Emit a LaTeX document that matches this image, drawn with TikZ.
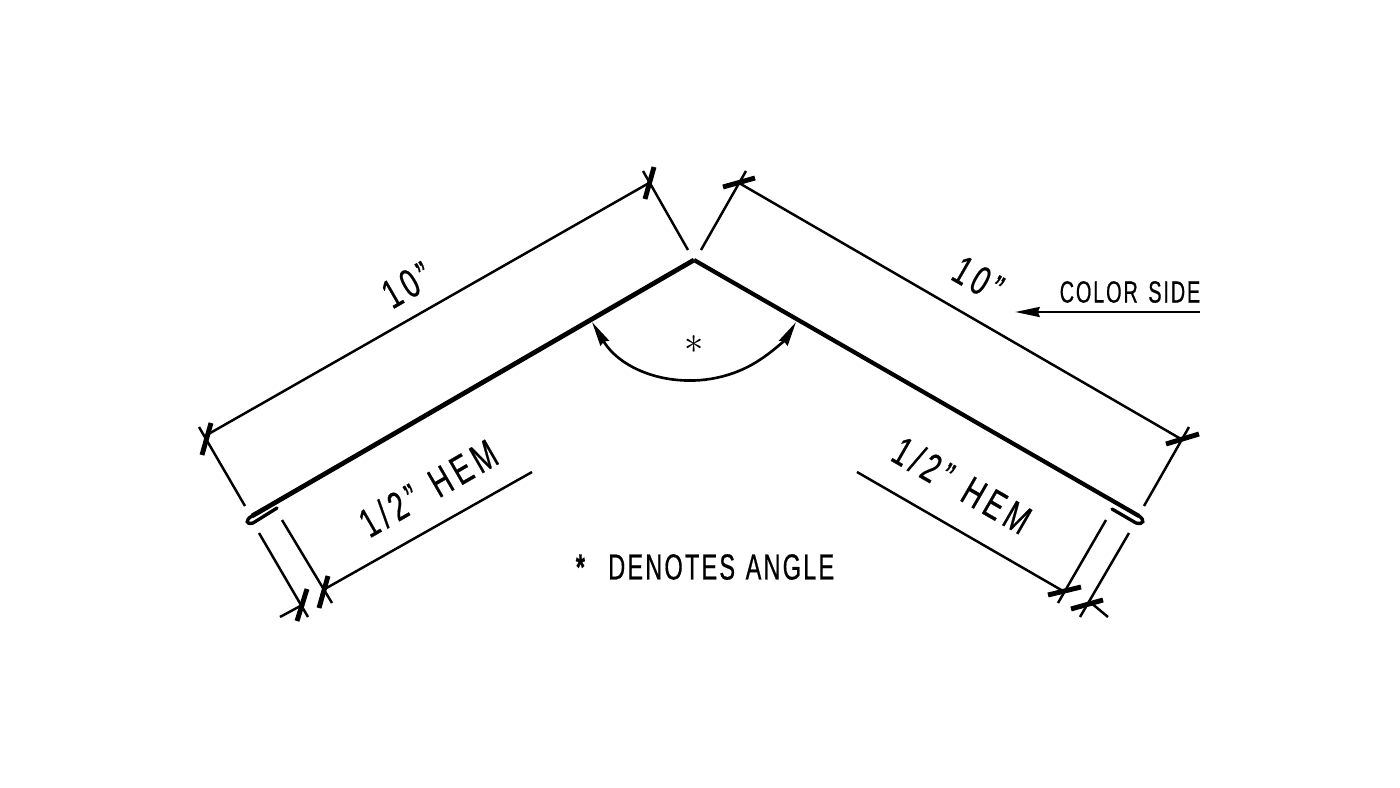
\documentclass[tikz,border=0pt]{standalone}
\usepackage{fontspec}
\setmainfont[FakeStretch=0.65,FakeBold=0.5,LetterSpace=6]{Liberation Sans}
\newfontfamily\widefont[FakeStretch=0.68,FakeBold=0.5,LetterSpace=12]{Liberation Sans}
\usetikzlibrary{arrows.meta}

\tikzset{
    dimline/.style={black, line width=0.7pt},
    ticked/.style={black, line width=1.4pt},
    panel/.style={black, line width=1.2pt},
    hemline/.style={black, line width=0.95pt, line cap=round},
    sloped label/.style={inner sep=0pt, font=\widefont\fontsize{11.6pt}{12pt}\selectfont},
    label/.style={inner sep=0pt, font=\fontsize{10.3pt}{12pt}\selectfont},
    smalllabel/.style={inner sep=0pt, font=\fontsize{8.7pt}{10pt}\selectfont},
    dimtip/.tip={Stealth[length=7pt,width=2.8pt,inset=0.5pt]}
}

\begin{document}
\begin{tikzpicture}[x=0.01cm, y=-0.01cm]
    \useasboundingbox (0,0) rectangle (1400,788);

    % Bent panel
    \draw[panel, line width=1.35pt] (252,516) -- (694,260);
    \draw[panel] (694,260) -- (1139,516);

    % Hems
    \draw[hemline] (252,516)
        .. controls (245,520) and (246,525) .. (253,523) -- (277,508);
    \draw[hemline] (1139,516)
        .. controls (1145,520) and (1144,525) .. (1136,523) -- (1112,509);

    % Left 10 dimension
    \draw[dimline] (205,436) -- (649,183);
    \draw[dimline] (199,427) -- (245,506);
    \draw[dimline] (643,171) -- (688,250);
    \draw[ticked] (202,455) -- (211,423);
    \draw[ticked] (645,199) -- (654,167);

    % Right 10 dimension
    \draw[dimline] (739,183) -- (1181,439);
    \draw[dimline] (701,250) -- (746,171);
    \draw[dimline] (1144,506) -- (1189,427);
    \draw[ticked] (723,187) -- (755,178);
    \draw[ticked] (1166,444) -- (1199,434);

    % Left hem dimension
    \draw[dimline] (259,533) -- (308,617);
    \draw[dimline] (282,520) -- (332,603);
    \draw[dimline] (280,617) -- (304,604);
    \draw[dimline] (323,590) -- (532,472);
    \draw[ticked] (297,621) -- (307,589);
    \draw[ticked] (319,608) -- (328,576);

    % Right hem dimension
    \draw[dimline] (857,472) -- (1063,591);
    \draw[dimline] (1106,520) -- (1058,603);
    \draw[dimline] (1129,533) -- (1080,617);
    \draw[dimline] (1090,602) -- (1108,617);
    \draw[ticked] (1048,595) -- (1081,587);
    \draw[ticked] (1071,609) -- (1103,600);

    % Angle arc
    \draw[dimline, line width=0.75pt, dimtip-dimtip]
        (592,322) arc[start angle=149, end angle=31, radius=119];

    % Color side arrow
    \draw[dimline, line width=0.85pt, -dimtip] (1200,312) -- (1015,312);

    % Labels
    \node[sloped label, rotate=30] (leftten) at (407,285) {10”};
    \node[sloped label, rotate=-30] (rightten) at (978,279) {10”};
    \node[sloped label, rotate=30] (lefthem) at (428,488) {1/2”\hspace{5pt}HEM};
    \node[sloped label, rotate=-30] (righthem) at (962,485) {1/2”\hspace{5pt}HEM};
    \node[smalllabel] (colorside) at (1130,292) {COLOR\hspace{3pt}SIDE};
    \node[inner sep=0pt, font=\fontsize{11pt}{12pt}\selectfont] (star) at (694,345) {$\ast$};
    \node[label] (denotes) at (705,567) {\textbf{*}\hspace{6pt}DENOTES\hspace{3pt}ANGLE};
\end{tikzpicture}
\end{document}
